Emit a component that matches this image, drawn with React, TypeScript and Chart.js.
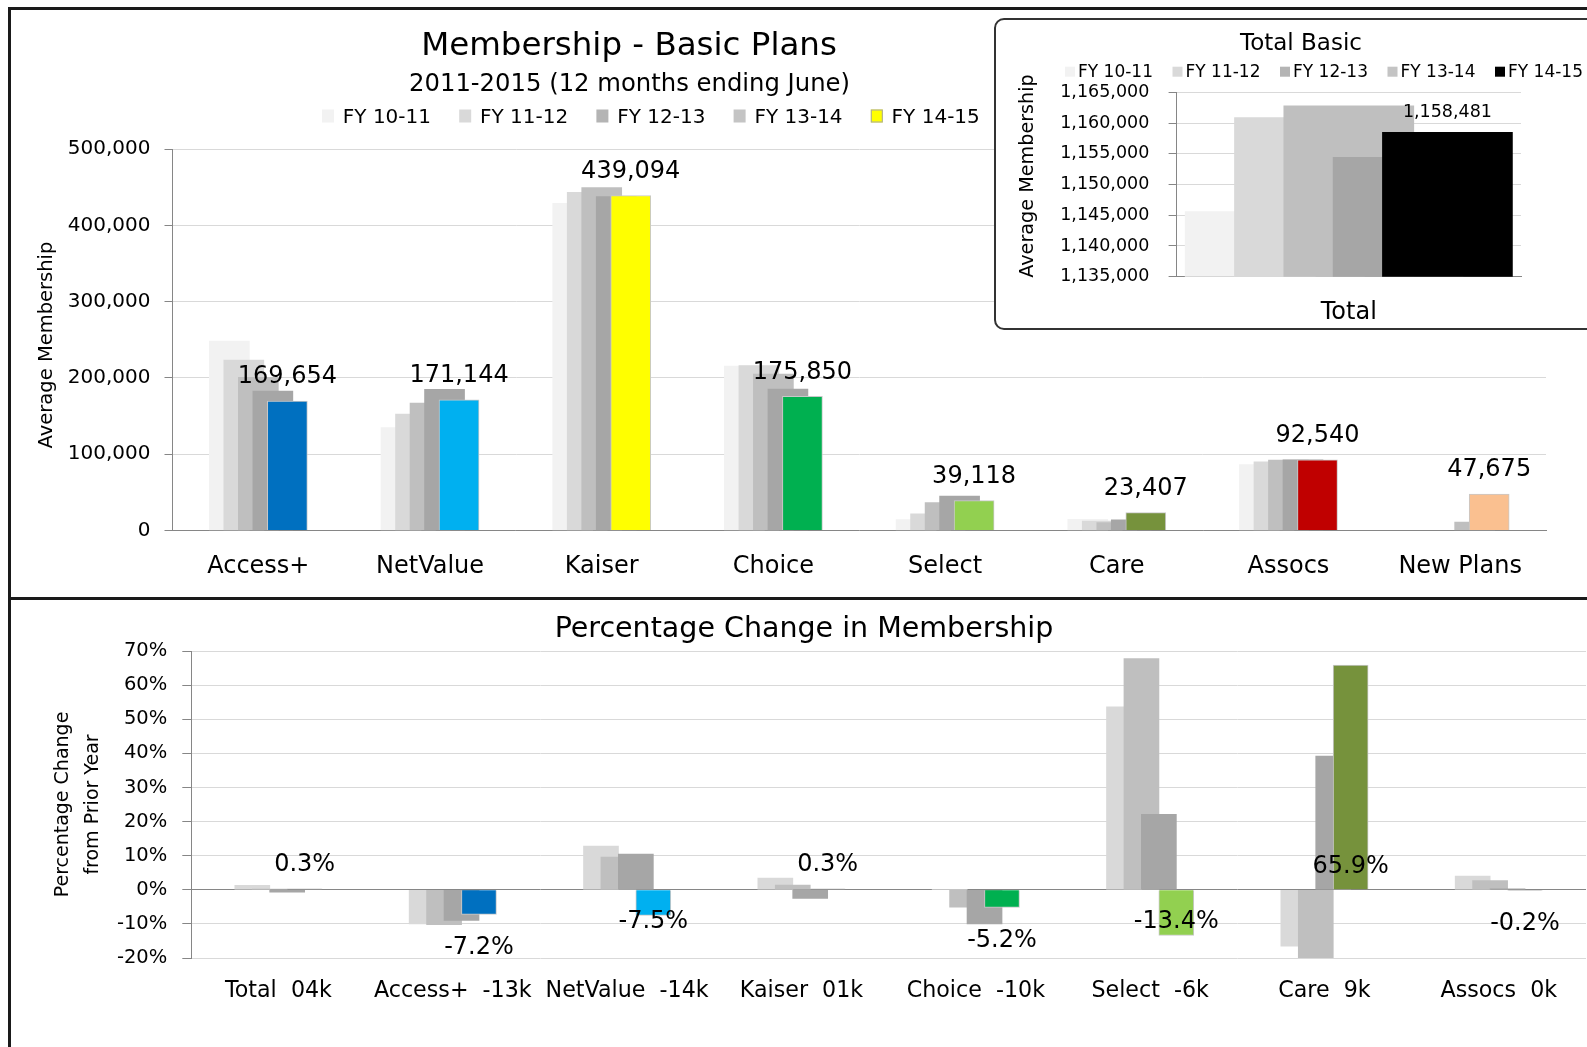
import React, { useEffect, useRef } from 'react';
import { Chart, registerables } from 'chart.js';

Chart.register(...registerables);

const FONT = '"DejaVu Sans", "Liberation Sans", sans-serif';
Chart.defaults.font.family = FONT;
Chart.defaults.color = '#000000';

// ---------- data ----------
const plans = ['Access+', 'NetValue', 'Kaiser', 'Choice', 'Select', 'Care', 'Assocs', 'New Plans'];
const years = ['FY 10-11', 'FY 11-12', 'FY 12-13', 'FY 13-14', 'FY 14-15'];

const fy1011 = [248400, 134800, 428800, 215600, 14400, 14800, 86300, null];
const fy1112 = [223500, 152700, 443200, 216000, 22000, 12400, 89900, null];
const fy1213 = [200800, 167000, 449300, 205000, 36700, 10400, 92400, null];
const fy1314 = [182800, 185000, 437800, 185500, 45000, 14100, 92700, 11100];
const fy1415 = [169654, 171144, 439094, 175850, 39118, 23407, 92540, 47675];

const totalBasic = [1145600, 1160900, 1162800, 1154400, 1158481];

const changeCats = ['Total  04k', 'Access+  -13k', 'NetValue  -14k', 'Kaiser  01k', 'Choice  -10k', 'Select  -6k', 'Care  9k', 'Assocs  0k'];
const chg1112 = [1.3, -10.0, 12.8, 3.4, 0.1, 53.6, -16.5, 4.0];
const chg1213 = [0.2, -10.2, 9.6, 1.4, -5.1, 67.8, -20.0, 2.7];
const chg1314 = [-0.7, -9.0, 10.5, -2.5, -10.0, 22.1, 39.2, 0.3];
const chg1415 = [0.3, -7.2, -7.5, 0.3, -5.2, -13.4, 65.9, -0.2];
// where a label was moved off the bar end (value on the % axis), null = default
const chgLabelAt = [null, null, -8.7, null, null, -8.7, 7.5, null];

// ---------- styles ----------
const planColors = ['#0070C0', '#00B0F0', '#FFFF00', '#00B050', '#92D050', '#76923C', '#C00000', '#FAC090'];
const greyShades = ['#F2F2F2', '#D9D9D9', '#BFBFBF', '#A6A6A6'];
const fy1314Colors = ['#A6A6A6', '#A6A6A6', '#A6A6A6', '#A6A6A6', '#A6A6A6', '#A6A6A6', '#A6A6A6', '#BFBFBF'];
const mainLegendColors = ['#F2F2F2', '#D9D9D9', '#B4B4B4', '#C4C4C4', '#FFFF00'];
const totalColors = ['#F2F2F2', '#D9D9D9', '#BFBFBF', '#A6A6A6', '#000000'];
const insetLegendColors = ['#F2F2F2', '#D9D9D9', '#B4B4B4', '#C4C4C4', '#000000'];
const chgGreys = ['#D9D9D9', '#BFBFBF', '#A6A6A6'];
const chgColors = ['#BFBFBF', '#0070C0', '#00B0F0', '#BFBFBF', '#00B050', '#92D050', '#76923C', '#BFBFBF'];

const AXIS = '#868686';
const GRID = '#D9D9D9';

function drawText(ctx: CanvasRenderingContext2D, str: string, x: number, y: number, size: number, align: CanvasTextAlign = 'center') {
  ctx.save();
  ctx.font = `${size}px ${FONT}`;
  ctx.fillStyle = '#000000';
  ctx.textAlign = align;
  ctx.textBaseline = 'alphabetic';
  ctx.fillText(str, x, y);
  ctx.restore();
}

function drawVertical(ctx: CanvasRenderingContext2D, str: string, cx: number, cy: number, size: number) {
  ctx.save();
  ctx.translate(cx, cy);
  ctx.rotate(-Math.PI / 2);
  ctx.font = `${size}px ${FONT}`;
  ctx.fillStyle = '#000000';
  ctx.textAlign = 'center';
  ctx.textBaseline = 'middle';
  ctx.fillText(str, 0, 0);
  ctx.restore();
}

function drawLegend(ctx: CanvasRenderingContext2D, colors: string[], x0: number, step: number, boxTop: number, boxW: number, boxH: number, textOff: number, baseline: number, size: number, stroke: boolean) {
  years.forEach((label, i) => {
    const x = x0 + i * step;
    ctx.save();
    ctx.fillStyle = colors[i];
    ctx.fillRect(x, boxTop, boxW, boxH);
    if (stroke && i === 4) {
      ctx.strokeStyle = '#A6A6A6';
      ctx.lineWidth = 1;
      ctx.strokeRect(x + 0.5, boxTop + 0.5, boxW - 1, boxH - 1);
    }
    ctx.restore();
    drawText(ctx, label, x + textOff, baseline, size, 'left');
  });
}

const fmt = (v: number) => v.toLocaleString('en-US');

function mainConfig(): any {
  const series = [fy1011, fy1112, fy1213, fy1314, fy1415];
  const step = 0.0845;
  const datasets = series.map((vals, s) => ({
    label: years[s],
    data: vals.map((v, i) => ({ x: i + (s - 2) * step, y: v })),
    backgroundColor: s === 4 ? planColors : s === 3 ? fy1314Colors : greyShades[s],
    borderColor: '#C8C8C8',
    borderWidth: s === 4 ? 1 : 0,
    barThickness: 40,
    grouped: false,
    order: 4 - s,
  }));
  const decor = {
    id: 'mainDecor',
    afterDatasetsDraw(chart: any) {
      const ctx = chart.ctx;
      const meta = chart.getDatasetMeta(4);
      meta.data.forEach((el: any, i: number) => {
        const v = fy1415[i];
        if (v == null) return;
        drawText(ctx, fmt(v), el.x, el.y - 17.75, 24);
      });
    },
    afterDraw(chart: any) {
      const ctx = chart.ctx;
      drawText(ctx, 'Membership - Basic Plans', 629, 55, 32.5);
      drawText(ctx, '2011-2015 (12 months ending June)', 629.5, 90.7, 24.3);
      drawLegend(ctx, mainLegendColors, 322, 137.2, 109.5, 12, 13, 20.8, 122.7, 20, true);
      drawVertical(ctx, 'Average Membership', 46.5, 345, 19.5);
    },
  };
  return {
    type: 'bar',
    data: { datasets },
    plugins: [decor],
    options: {
      animation: false,
      responsive: false,
      events: [],
      layout: { padding: { left: 0, top: 149, right: 41, bottom: 0 } },
      plugins: { legend: { display: false }, tooltip: { enabled: false }, title: { display: false } },
      scales: {
        x: {
          type: 'linear',
          offset: false,
          min: -0.5,
          max: 7.5,
          afterBuildTicks: (scale: any) => {
            scale.ticks = plans.map((_, i) => ({ value: i }));
          },
          afterFit: (scale: any) => {
            scale.height = 66.5;
          },
          ticks: {
            callback: (v: number) => plans[Math.round(v)],
            font: { size: 24 },
            padding: 22.3,
            autoSkip: false,
            minRotation: 0,
            maxRotation: 0,
          },
          grid: { display: false, drawTicks: false, offset: false },
          border: { display: true, color: AXIS, width: 1 },
        },
        y: {
          min: 0,
          max: 500000,
          afterFit: (scale: any) => {
            scale.width = 172.5;
          },
          ticks: { stepSize: 100000, callback: (v: number) => fmt(v), font: { size: 20 }, padding: 14 },
          grid: { color: GRID, tickColor: AXIS, tickLength: 8, drawTicks: true },
          border: { display: true, color: AXIS, width: 1 },
          title: { display: false },
        },
      },
    },
  };
}

function insetConfig(): any {
  const step = 0.1432;
  const datasets = totalBasic.map((v, s) => ({
    label: years[s],
    data: [{ x: (s - 2) * step, y: v }],
    backgroundColor: totalColors[s],
    borderWidth: 0,
    barThickness: 130,
    grouped: false,
    order: 4 - s,
  }));
  const decor = {
    id: 'insetDecor',
    afterDatasetsDraw(chart: any) {
      const ctx = chart.ctx;
      const el = chart.getDatasetMeta(4).data[0];
      drawText(ctx, fmt(totalBasic[4]), el.x, el.y - 15.6, 17.5);
    },
    afterDraw(chart: any) {
      const ctx = chart.ctx;
      drawText(ctx, 'Total Basic', 305, 30, 23);
      drawLegend(ctx, insetLegendColors, 69, 107.5, 46.7, 10, 10, 13, 56.7, 17, false);
      drawVertical(ctx, 'Average Membership', 32.4, 156, 19.2);
    },
  };
  return {
    type: 'bar',
    data: { datasets },
    plugins: [decor],
    options: {
      animation: false,
      responsive: false,
      events: [],
      layout: { padding: { left: 0, top: 72.3, right: 66, bottom: 0 } },
      plugins: { legend: { display: false }, tooltip: { enabled: false }, title: { display: false } },
      scales: {
        x: {
          type: 'linear',
          offset: false,
          min: -0.5,
          max: 0.5,
          afterBuildTicks: (scale: any) => {
            scale.ticks = [{ value: 0 }];
          },
          afterFit: (scale: any) => {
            scale.height = 51.3;
          },
          ticks: { callback: () => 'Total', font: { size: 24 }, padding: 21.7, autoSkip: false, maxRotation: 0 },
          grid: { display: false, drawTicks: false, offset: false },
          border: { display: true, color: AXIS, width: 1 },
        },
        y: {
          min: 1135000,
          max: 1165000,
          afterFit: (scale: any) => {
            scale.width = 180.6;
          },
          ticks: { stepSize: 5000, callback: (v: number) => fmt(v), font: { size: 17.5 }, padding: 19.3 },
          grid: { color: GRID, tickColor: AXIS, tickLength: 8, drawTicks: true },
          border: { display: true, color: AXIS, width: 1 },
          title: { display: false },
        },
      },
    },
  };
}

function pctConfig(): any {
  const series = [chg1112, chg1213, chg1314, chg1415];
  const step = 0.1;
  const datasets = series.map((vals, s) => ({
    label: years[s + 1],
    data: vals.map((v, i) => ({ x: i + (s - 1.5) * step, y: v })),
    backgroundColor: s === 3 ? chgColors : chgGreys[s],
    borderColor: '#C8C8C8',
    borderWidth: s === 3 ? 1 : 0,
    barThickness: 35,
    grouped: false,
    order: 3 - s,
  }));
  const decor = {
    id: 'pctDecor',
    afterDatasetsDraw(chart: any) {
      const ctx = chart.ctx;
      const yScale = chart.scales.y;
      const meta = chart.getDatasetMeta(3);
      meta.data.forEach((el: any, i: number) => {
        const v = chg1415[i];
        const at = chgLabelAt[i];
        let center: number;
        if (at != null) center = yScale.getPixelForValue(at);
        else if (v >= 0) center = el.y - 26.7;
        else center = el.y + 31;
        drawText(ctx, v.toFixed(1) + '%', el.x, center + 8.75, 24);
      });
    },
    afterDraw(chart: any) {
      drawText(chart.ctx, 'Percentage Change in Membership', 804, 39.7, 28.5);
    },
  };
  return {
    type: 'bar',
    data: { datasets },
    plugins: [decor],
    options: {
      animation: false,
      responsive: false,
      events: [],
      layout: { padding: { left: 0, top: 54, right: 1, bottom: 0 } },
      plugins: { legend: { display: false }, tooltip: { enabled: false }, title: { display: false } },
      scales: {
        x: {
          type: 'linear',
          offset: false,
          min: -0.5,
          max: 7.5,
          afterBuildTicks: (scale: any) => {
            scale.ticks = changeCats.map((_, i) => ({ value: i }));
          },
          afterFit: (scale: any) => {
            scale.height = 89;
          },
          ticks: {
            callback: (v: number) => changeCats[Math.round(v)],
            font: { size: 22.2 },
            padding: 20.4,
            autoSkip: false,
            minRotation: 0,
            maxRotation: 0,
          },
          grid: { display: false, drawTicks: false, offset: false },
          border: { display: false },
        },
        y: {
          min: -20,
          max: 70,
          afterFit: (scale: any) => {
            scale.width = 191.3;
          },
          ticks: { stepSize: 10, callback: (v: number) => v + '%', font: { size: 19.5 }, padding: 15 },
          grid: {
            color: (c: any) => (c.tick && c.tick.value === 0 ? AXIS : GRID),
            tickColor: AXIS,
            tickLength: 9,
            drawTicks: true,
          },
          border: { display: true, color: AXIS, width: 1 },
          title: {
            display: true,
            text: ['Percentage Change', 'from Prior Year'],
            font: { size: 19, lineHeight: 1.58 },
            padding: { top: 48, bottom: 0 },
          },
        },
      },
    },
  };
}

export default function App() {
  const mainRef = useRef<HTMLCanvasElement>(null);
  const insetRef = useRef<HTMLCanvasElement>(null);
  const pctRef = useRef<HTMLCanvasElement>(null);

  useEffect(() => {
    const charts: Chart[] = [];
    if (mainRef.current) charts.push(new Chart(mainRef.current, mainConfig()));
    if (pctRef.current) charts.push(new Chart(pctRef.current, pctConfig()));
    if (insetRef.current) charts.push(new Chart(insetRef.current, insetConfig()));
    return () => charts.forEach((c) => c.destroy());
  }, []);

  return (
    <div style={{ position: 'fixed', left: 0, top: 0, width: 1587, height: 1047, overflow: 'hidden', background: '#ffffff' }}>
      <canvas ref={mainRef} width={1587} height={597} style={{ position: 'absolute', left: 0, top: 0 }} />
      <canvas ref={pctRef} width={1587} height={450} style={{ position: 'absolute', left: 0, top: 597 }} />
      <div
        style={{
          position: 'absolute',
          left: 8,
          top: 7,
          width: 1700,
          height: 593,
          border: '3px solid #1A1A1A',
          boxSizing: 'border-box',
          pointerEvents: 'none',
        }}
      />
      <div style={{ position: 'absolute', left: 8, top: 600, width: 3, height: 447, background: '#1A1A1A' }} />
      <div
        style={{
          position: 'absolute',
          left: 994,
          top: 18,
          width: 640,
          height: 312,
          border: '2px solid #333333',
          borderRadius: 10,
          boxSizing: 'border-box',
          background: '#ffffff',
          overflow: 'hidden',
        }}
      >
        <canvas ref={insetRef} width={591} height={308} style={{ position: 'absolute', left: 0, top: 0 }} />
      </div>
    </div>
  );
}
